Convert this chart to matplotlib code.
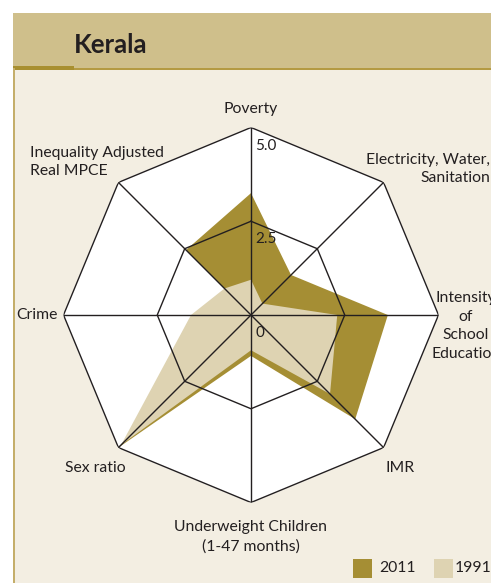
import numpy as np
import matplotlib
matplotlib.use("Agg")
import matplotlib.pyplot as plt
from matplotlib.patches import Rectangle

categories = ["Poverty", "Electricity, Water,\nSanitation", "Intensity\nof\nSchool\nEducation",
              "IMR", "Underweight Children\n(1-47 months)", "Sex ratio", "Crime",
              "Inequality Adjusted\nReal MPCE"]
values_2011 = [3.25, 1.51, 3.65, 3.93, 1.09, 5.0, 0.0, 2.45]
values_1991 = [0.94, 0.43, 2.30, 2.98, 0.94, 4.90, 1.60, 1.00]
ring_values = [0.0, 2.5, 5.0]
ring_labels = ["0", "2.5", "5.0"]
series_names = ["2011", "1991"]

DARK = "#A58E34"
LIGHT = "#DED3B2"
BG = "#F3EEE2"
HEAD = "#CFBF8B"
FONT = ["Lato", "DejaVu Sans"]
TXT = "#231F20"

W, H = 491, 583
fig = plt.figure(figsize=(W / 100, H / 100), dpi=100)
fig.patch.set_facecolor("white")

def fx(x): return x / W
def fy(y): return 1 - y / H

# page decorations
fig.patches.append(Rectangle((fx(13), 0), 1, fy(13), transform=fig.transFigure,
                             facecolor=BG, edgecolor="none", zorder=-3))
fig.patches.append(Rectangle((fx(13), fy(68)), 1, fy(13) - fy(68), transform=fig.transFigure,
                             facecolor=HEAD, edgecolor="none", zorder=-2))
fig.patches.append(Rectangle((fx(13), fy(70)), 1, fy(68) - fy(70), transform=fig.transFigure,
                             facecolor="#B49A42", edgecolor="none", zorder=-1))
fig.patches.append(Rectangle((fx(13), fy(70)), fx(74) - fx(13), fy(66) - fy(70), transform=fig.transFigure,
                             facecolor="#A88F30", edgecolor="none", zorder=-1))
fig.patches.append(Rectangle((fx(13), 0), fx(15) - fx(13), fy(68), transform=fig.transFigure,
                             facecolor="#C4AE6A", edgecolor="none", zorder=-1))
fig.text(fx(74), fy(45), "Kerala", fontsize=18.5, fontweight="bold", family=FONT,
         color=TXT, va="center", ha="left")

# radar
cx, cy, R = 251, 315, 187.5
ax = fig.add_axes([fx(cx - R), fy(cy + R), fx(2 * R), (2 * R) / H], projection="polar")
ax.set_zorder(5)
ax.set_theta_zero_location("N")
ax.set_theta_direction(-1)
ax.set_ylim(0, 5)
ax.set_facecolor("none")
ax.grid(False)
ax.spines["polar"].set_visible(False)
ax.set_xticks([])
ax.set_yticks([])

n = len(categories)
ang = np.linspace(0, 2 * np.pi, n, endpoint=False)
angc = np.append(ang, ang[0])

ax.fill(angc, [5.0] * (n + 1), color="white", zorder=1)
ax.fill(angc, np.append(values_2011, values_2011[0]), color=DARK, lw=0, zorder=2)
ax.fill(angc, np.append(values_1991, values_1991[0]), color=LIGHT, lw=0, zorder=3)
for rv in ring_values[1:]:
    ax.plot(angc, [rv] * (n + 1), color="#231F20", lw=1.0, zorder=4)
for a in ang:
    ax.plot([a, a], [0, 5.0], color="#231F20", lw=1.0, zorder=4)

# ring labels
for rv, lab in zip(ring_values, ring_labels):
    ax.annotate(lab, xy=(0, rv), xytext=(4, -18), textcoords="offset pixels",
                fontsize=11, family=FONT, color=TXT, ha="left", va="center", zorder=5)

# category labels
kw = dict(fontsize=11.3, family=FONT, color=TXT, linespacing=1.42)
fig.text(fx(251), fy(109), categories[0], ha="center", va="center", **kw)
fig.text(fx(490), fy(169), categories[1], ha="right", va="center", multialignment="right", **kw)
fig.text(fx(466), fy(326), categories[2], ha="center", va="center", multialignment="center", **kw)
fig.text(fx(400), fy(468), categories[3], ha="center", va="center", **kw)
fig.text(fx(251), fy(537), categories[4], ha="center", va="center", multialignment="center", **kw)
fig.text(fx(95), fy(468), categories[5], ha="center", va="center", **kw)
fig.text(fx(37), fy(315), categories[6], ha="center", va="center", **kw)
fig.text(fx(30), fy(162), categories[7], ha="left", va="center", multialignment="left", **kw)

# legend
for (x0, col, name, tx) in [(353, DARK, series_names[0], 379), (434, LIGHT, series_names[1], 455)]:
    fig.patches.append(Rectangle((fx(x0), fy(578)), fx(19), fy(559) - fy(578),
                                 transform=fig.transFigure, facecolor=col, edgecolor="none", zorder=2))
    fig.text(fx(tx), fy(568.5), name, ha="left", va="center", **kw)

fig.savefig("out.png", dpi=100)
